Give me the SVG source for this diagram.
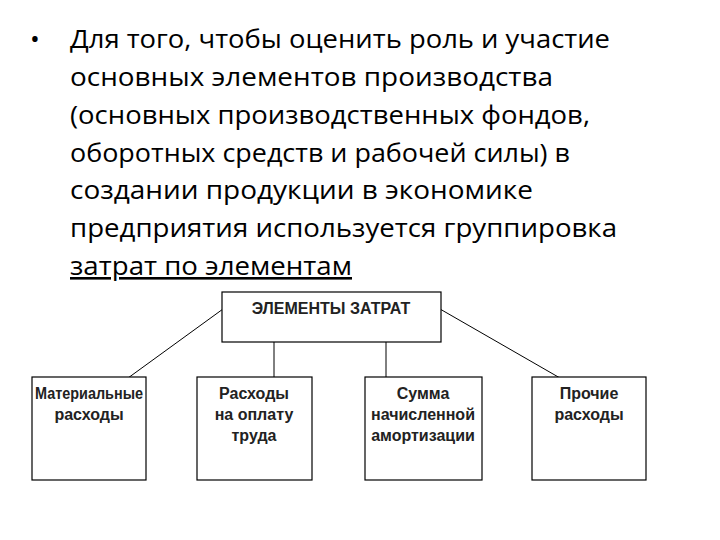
<svg xmlns="http://www.w3.org/2000/svg" width="720" height="540" viewBox="0 0 720 540">
<style>
.t{font-family:"Open Sans","Liberation Sans",sans-serif;font-size:26px;fill:#000}
.b{fill:#fff;stroke:#000;stroke-width:1.2}
.l{font-family:"Liberation Sans",Arial,sans-serif;font-size:16px;font-weight:bold;fill:#222;text-anchor:middle}
.c{stroke:#000;stroke-width:1;fill:none}
</style>
<rect width="720" height="540" fill="#fff"/>
<g id="text">
<text class="t" x="30" y="48">•</text>
<text class="t" x="70" y="48" textLength="540" lengthAdjust="spacingAndGlyphs">Для того, чтобы оценить роль и участие</text>
<text class="t" x="70" y="86" textLength="483" lengthAdjust="spacingAndGlyphs">основных элементов производства</text>
<text class="t" x="70" y="124" textLength="520" lengthAdjust="spacingAndGlyphs">(основных производственных фондов,</text>
<text class="t" x="70" y="162" textLength="500" lengthAdjust="spacingAndGlyphs">оборотных средств и рабочей силы) в</text>
<text class="t" x="70" y="199" textLength="463" lengthAdjust="spacingAndGlyphs">создании продукции в экономике</text>
<text class="t" x="70" y="237" textLength="547" lengthAdjust="spacingAndGlyphs">предприятия используется группировка</text>
<text class="t" x="70" y="275" textLength="282" lengthAdjust="spacingAndGlyphs" text-decoration="underline">затрат по элементам</text>
</g>
<g id="connectors">
<path class="c" d="M223 309 L128 378 M440 309 L560 378 M274 342 V378 M386 342 V378"/>
</g>
<g id="top"><rect class="b" x="222" y="292" width="219" height="50"/><text class="l" x="331" y="314">ЭЛЕМЕНТЫ ЗАТРАТ</text></g>
<g id="n1"><rect class="b" x="32" y="377" width="114" height="103"/><text class="l" x="89" y="399" textLength="108" lengthAdjust="spacingAndGlyphs">Материальные</text><text class="l" x="89" y="420">расходы</text></g>
<g id="n2"><rect class="b" x="197" y="377" width="115" height="103"/><text class="l" x="254" y="399">Расходы</text><text class="l" x="254" y="420">на оплату</text><text class="l" x="254" y="441">труда</text></g>
<g id="n3"><rect class="b" x="365" y="377" width="117" height="103"/><text class="l" x="423" y="399">Сумма</text><text class="l" x="423" y="420">начисленной</text><text class="l" x="423" y="441">амортизации</text></g>
<g id="n4"><rect class="b" x="532" y="377" width="114" height="103"/><text class="l" x="589" y="399">Прочие</text><text class="l" x="589" y="420">расходы</text></g>
</svg>
